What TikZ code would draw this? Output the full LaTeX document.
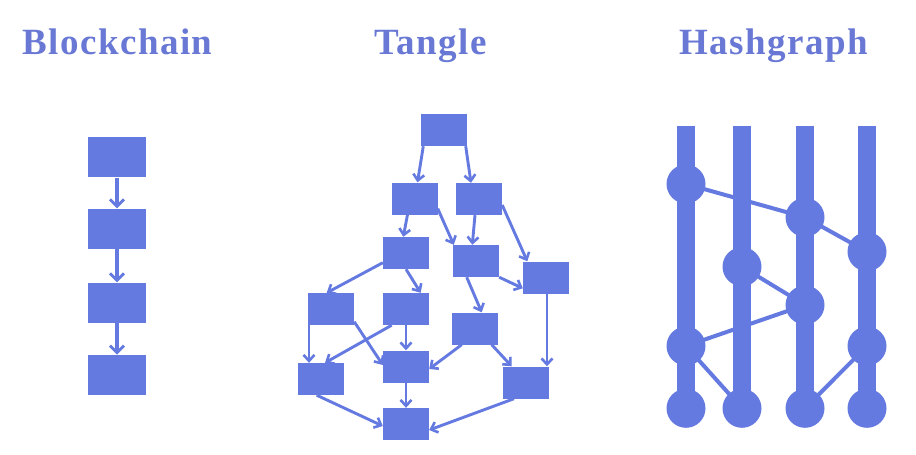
\documentclass[tikz,border=0pt]{standalone}
\usepackage{fontspec}
\setmainfont{Liberation Serif}
\newfontfamily\titlefont{Liberation Serif}[LetterSpace=4]
\usetikzlibrary{arrows.meta,calc}
\definecolor{mainblue}{RGB}{100,122,224}
\definecolor{titleblue}{RGB}{104,120,212}
\tikzset{
  title/.style={anchor=base,text=titleblue,font=\titlefont\bfseries\fontsize{37}{40}\selectfont,inner sep=0pt},
  chainbox/.style={fill=mainblue,draw=none,minimum width=58pt,minimum height=40pt,inner sep=0pt},
  tbox/.style={fill=mainblue,draw=none,minimum width=46pt,minimum height=32pt,inner sep=0pt},
  chainarrow/.style={draw=mainblue,line width=3.2pt,-{Straight Barb[length=7pt,width=14pt,line width=2.8pt]}},
  tarrow/.style={draw=mainblue,line width=2.9pt,-{Straight Barb[length=6pt,width=11pt,line width=2.6pt]}},
  hbar/.style={draw=mainblue,line width=18pt},
  hline/.style={draw=mainblue,line width=4pt},
  hnode/.style={circle,fill=mainblue,draw=none,minimum size=39pt,inner sep=0pt},
}
\begin{document}
\begin{tikzpicture}[x=1pt,y=-1pt]
\useasboundingbox (0,0) rectangle (916,455);
% titles
\node[title] (t1) at (117.5,54) {Blockchain};
\node[title] (t2) at (430.5,54) {Tangle};
\node[title] (t3) at (774,54) {Hashgraph};
% blockchain
\node[chainbox] (b1) at (117,157.3) {};
\node[chainbox] (b2) at (117,228.5) {};
\node[chainbox] (b3) at (117,302.5) {};
\node[chainbox] (b4) at (117,374.7) {};
\draw[chainarrow] (b1.south) -- (b2.north);
\draw[chainarrow] (b2.south) -- (b3.north);
\draw[chainarrow] (b3.south) -- (b4.north);
% tangle
\node[tbox] (T0) at (444,130) {};
\node[tbox] (R2L) at (414.5,198.5) {};
\node[tbox] (R2R) at (479,199) {};
\node[tbox] (R3L) at (406,253) {};
\node[tbox] (R3M) at (476,261) {};
\node[tbox] (RB) at (546,277.5) {};
\node[tbox] (A) at (331,309) {};
\node[tbox] (B) at (406,309) {};
\node[tbox] (C) at (475,328.5) {};
\node[tbox] (D) at (320.5,379) {};
\node[tbox] (E) at (406,366.5) {};
\node[tbox] (F) at (525.5,382.5) {};
\node[tbox] (G) at (406,424) {};
\draw[tarrow] ($(T0.south)+(-20.7,0)$) -- ($(R2L.north)+(3,0)$);
\draw[tarrow] ($(T0.south)+(21.7,0)$) -- ($(R2R.north)+(-8,0)$);
\draw[tarrow] ($(R2L.south)+(-7,0)$) -- ($(R3L.north)+(-2.7,0)$);
\draw[tarrow] ($(R2L.east)+(0,10)$) -- ($(R3M.north west)+(1,0)$);
\draw[tarrow] ($(R2R.south)+(-4,0)$) -- ($(R3M.north)+(-3.7,0)$);
\draw[tarrow] ($(R2R.east)+(0,6)$) -- ($(RB.north)+(-18.7,0)$);
\draw[tarrow] ($(R3L.west)+(0,9.7)$) -- ($(A.north)+(-4.3,0)$);
\draw[tarrow] (R3L.south) -- ($(B.north)+(14.7,0)$);
\draw[tarrow] ($(R3M.south)+(-9.3,0)$) -- ($(C.north)+(6.7,0)$);
\draw[tarrow] (R3M.south east) -- ($(RB.west)+(0,10.8)$);
\draw[tarrow] ($(A.south)+(-22,0)$) -- ($(D.north)+(-11.5,0)$);
\draw[tarrow] ($(A.east)+(0,12.7)$) -- ($(E.west)+(0,-1.5)$);
\draw[tarrow] ($(B.south)+(-14.3,0)$) -- ($(D.north)+(4.5,0)$);
\draw[tarrow] (B.south) -- (E.north);
\draw[tarrow] ($(C.south)+(-13.3,0)$) -- ($(E.east)+(0,2.5)$);
\draw[tarrow] ($(C.south)+(16.7,0)$) -- ($(F.north)+(-13.8,0)$);
\draw[tarrow] ($(RB.south)+(1,0)$) -- ($(F.north)+(21.5,0)$);
\draw[tarrow] ($(D.south)+(-3.8,0)$) -- ($(G.west)+(0,2)$);
\draw[tarrow] (E.south) -- (G.north);
\draw[tarrow] ($(F.south)+(-11.5,0)$) -- ($(G.east)+(0,6)$);
% hashgraph
\coordinate (top1) at (686,125.7);
\coordinate (top2) at (742,125.7);
\coordinate (top3) at (805,125.7);
\coordinate (top4) at (867,125.7);
\node[hnode] (h1a) at (686,184) {};
\node[hnode] (h1b) at (686,346) {};
\node[hnode] (h1c) at (686,408.3) {};
\node[hnode] (h2a) at (742,266.7) {};
\node[hnode] (h2c) at (742,408.3) {};
\node[hnode] (h3a) at (805,217.3) {};
\node[hnode] (h3b) at (805,305) {};
\node[hnode] (h3c) at (805,408.3) {};
\node[hnode] (h4a) at (867,251.7) {};
\node[hnode] (h4b) at (867,346) {};
\node[hnode] (h4c) at (867,408.3) {};
\draw[hbar] (top1) -- (h1c.center);
\draw[hbar] (top2) -- (h2c.center);
\draw[hbar] (top3) -- (h3c.center);
\draw[hbar] (top4) -- (h4c.center);
\draw[hline] (h1a.center) -- (h3a.center);
\draw[hline] (h3a.center) -- (h4a.center);
\draw[hline] (h2a.center) -- (h3b.center);
\draw[hline] (h3b.center) -- (h1b.center);
\draw[hline] (h1b.center) -- (h2c.center);
\draw[hline] (h4b.center) -- (h3c.center);
\end{tikzpicture}
\end{document}
